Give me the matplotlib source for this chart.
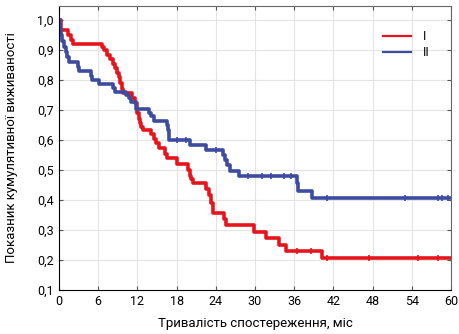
import matplotlib
matplotlib.use("Agg")
import matplotlib.pyplot as plt

# group I (red) - step curve
t1 = [0, 0.3, 1.4, 1.9, 2.1, 6.6, 6.9, 7.3, 7.8, 8.2, 8.5, 8.9, 9.2, 9.4, 9.6, 9.8,
      11.2, 11.6, 11.9, 12.0, 12.2, 12.4, 12.6, 12.9, 14.1, 14.5, 14.9, 15.3,
      16.3, 16.6, 18.0, 19.8, 20.0, 20.2, 20.5, 22.5, 23.0, 23.3, 23.6, 25.2, 25.5,
      29.8, 31.7, 33.7, 34.8, 40.3, 60]
s1 = [1.0, 0.967, 0.95, 0.935, 0.92, 0.91, 0.90, 0.885, 0.87, 0.855, 0.84, 0.825, 0.81, 0.79, 0.77, 0.757,
      0.74, 0.723, 0.705, 0.69, 0.67, 0.657, 0.645, 0.633, 0.62, 0.605, 0.59, 0.573,
      0.555, 0.54, 0.52, 0.50, 0.48, 0.47, 0.455, 0.435, 0.415, 0.39, 0.357, 0.335, 0.317,
      0.294, 0.273, 0.25, 0.229, 0.207, 0.207]
cens1_t = [36.5, 38.5, 41.0, 47.5, 55.0, 58.0]
cens1_s = [0.229, 0.229, 0.207, 0.207, 0.207, 0.207]

# group II (blue)
t2 = [0, 0.1, 0.3, 0.5, 0.8, 1.1, 1.3, 1.5, 2.9, 3.1, 4.9, 5.1, 6.2, 8.2, 8.5,
      10.3, 10.7, 11.0, 11.8, 13.8, 14.1, 14.6, 16.5, 16.7, 16.9, 20.1, 22.5,
      25.1, 25.4, 25.7, 26.2, 27.6, 36.4, 36.6, 38.8, 60]
s2 = [1.0, 0.97, 0.95, 0.93, 0.91, 0.895, 0.877, 0.86, 0.845, 0.83, 0.813, 0.80, 0.787, 0.773, 0.76,
      0.75, 0.74, 0.727, 0.705, 0.69, 0.68, 0.665, 0.65, 0.635, 0.60, 0.585, 0.568,
      0.55, 0.533, 0.517, 0.497, 0.48, 0.455, 0.43, 0.405, 0.405]
cens2_t = [18.0, 19.5, 24.0, 29.0, 31.0, 32.5, 34.5, 35.5, 41.0, 53.0, 58.0, 58.6, 59.5]
cens2_s = [0.60, 0.60, 0.568, 0.48, 0.48, 0.48, 0.48, 0.48, 0.405, 0.405, 0.405, 0.405, 0.405]

xticks = [0, 6, 12, 18, 24, 30, 36, 42, 48, 54, 60]
yticks = [0.1, 0.2, 0.3, 0.4, 0.5, 0.6, 0.7, 0.8, 0.9, 1.0]

red = "#e8141c"
blue = "#3d4ba0"

plt.rcParams['font.family'] = ['Roboto', 'DejaVu Sans']
fig = plt.figure(figsize=(4.59, 3.34), dpi=100)
ax = fig.add_axes([0.1285, 0.132, 0.854, 0.85])

ax.plot(t1, s1, drawstyle='steps-post', color=red, lw=2.6, label='I')
ax.plot(t2, s2, drawstyle='steps-post', color=blue, lw=2.6, label='II')
ax.plot(cens1_t, cens1_s, ls='none', marker='|', ms=5, mew=1.2, color=red)
ax.plot(cens2_t, cens2_s, ls='none', marker='|', ms=5, mew=1.2, color=blue)

ax.set_xlim(0, 60)
ax.set_ylim(0.1, 1.047)
ax.set_xticks(xticks)
ax.set_yticks(yticks)
ax.set_yticklabels([f"{v:.1f}".replace('.', ',') for v in yticks])
ax.grid(True, color='#e4e4e4', lw=0.8)
ax.set_axisbelow(True)
ax.tick_params(direction='in', length=3, labelsize=9, top=True, right=True,
               labeltop=False, labelright=False, color='#555555')
for sp in ['top', 'right']:
    ax.spines[sp].set_color('#666666')

ax.set_xlabel('Тривалість спостереження, міс', fontsize=9.5, labelpad=7)
ax.set_ylabel('Показник кумулятивної виживаності', fontsize=9.5, labelpad=14)

leg = ax.legend(loc='upper right', frameon=False, fontsize=9, handlelength=2.2,
                bbox_to_anchor=(0.975, 0.955), labelspacing=0.25, handletextpad=1.0)
for ln in leg.get_lines():
    ln.set_linewidth(1.6)

fig.savefig('out.png', dpi=100)
